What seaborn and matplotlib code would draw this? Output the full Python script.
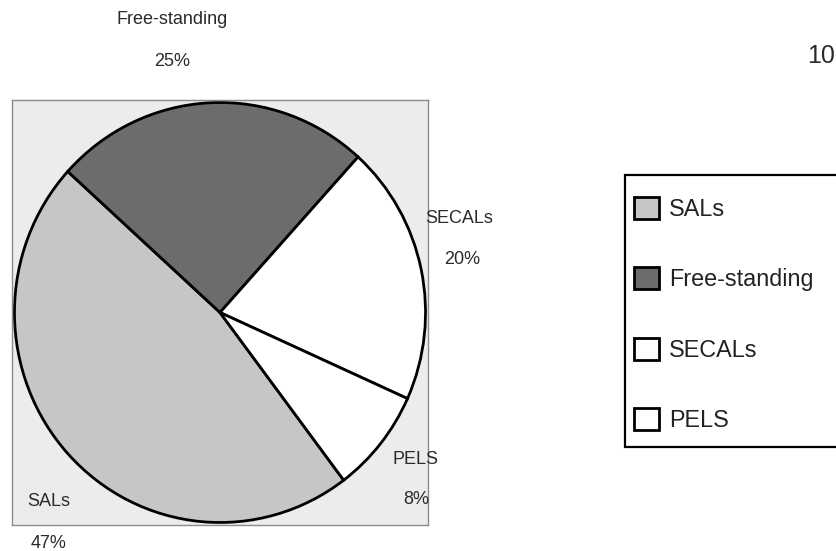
import matplotlib
matplotlib.use("Agg")
import matplotlib.pyplot as plt
from matplotlib.patches import Patch, Rectangle
import seaborn as sns

categories = ["SALs", "Free-standing", "SECALs", "PELS"]
shares = [47, 25, 20, 8]
pct_labels = ["47%", "25%", "20%", "8%"]
page_number = "10"

sns.set_theme(style="white")
plt.rcParams["font.family"] = ["Liberation Sans", "DejaVu Sans"]

W, H = 836, 551
fig = plt.figure(figsize=(W / 100, H / 100), dpi=100)
fig.patch.set_facecolor("white")

def fx(x):
    return x / W

def fy(y):
    return 1 - y / H

# plot area box
ax = fig.add_axes([fx(12), fy(525), fx(428) - fx(12), fy(100) - fy(525)])
colors = ["#c6c6c6", "#6c6c6c", "#ffffff", "#ffffff"]
ax.pie(shares, colors=colors, startangle=-53, counterclock=False, radius=1.0,
       wedgeprops=dict(edgecolor="black", linewidth=2.0))
ax.set_frame_on(True)
ax.set_facecolor("#ececec")
ax.set_aspect("auto")
ax.set_xlim(-1.012, 1.012)
ax.set_ylim(-1.012, 1.012)
ax.set_xticks([])
ax.set_yticks([])
for sp in ax.spines.values():
    sp.set_visible(True)
    sp.set_color("#8c8c8c")
    sp.set_linewidth(1.0)

# slice labels (name and percentage on two lines)
label_pos = {
    "SALs": ((49, 502), (49, 543)),
    "Free-standing": ((172, 19), (172, 61)),
    "SECALs": ((459, 218), (462, 259)),
    "PELS": ((416, 459), (416, 500)),
}
for cat, pct in zip(categories, pct_labels):
    (x1, y1), (x2, y2) = label_pos[cat]
    fig.text(fx(x1), fy(y1), cat, ha="center", va="center", fontsize=13,
             color="#2a2a2a")
    fig.text(fx(x2), fy(y2), pct, ha="center", va="center", fontsize=13,
             color="#2a2a2a")

# page number (at right edge)
fig.text(fx(835), fy(56), page_number, ha="right", va="center", fontsize=18,
         color="#2a2a2a")

# legend frame
fig.patches.append(Rectangle((fx(625), fy(447)), fx(900) - fx(625), fy(175) - fy(447),
                             transform=fig.transFigure, facecolor="white",
                             edgecolor="black", linewidth=1.6, zorder=1))
handles = [Patch(facecolor=c, edgecolor="black", linewidth=2.0) for c in colors]
leg = fig.legend(handles, categories, loc="upper left",
                 bbox_to_anchor=(fx(634), fy(197)), frameon=False,
                 fontsize=16.8, handlelength=1.05, handleheight=1.05,
                 handletextpad=0.45, labelspacing=2.0, borderpad=0,
                 borderaxespad=0)
for t in leg.get_texts():
    t.set_color("#222222")
leg.set_zorder(2)

fig.savefig("out.png", dpi=100)
